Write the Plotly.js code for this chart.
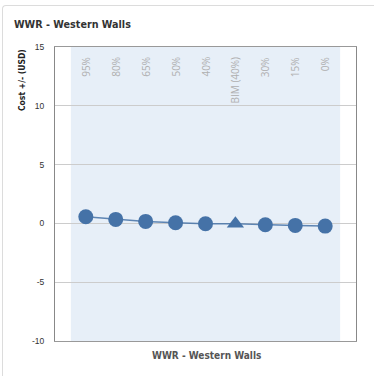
<!DOCTYPE html>
<html>
<head>
<meta charset="utf-8">
<script src="https://cdn.plot.ly/plotly-3.0.1.min.js"></script>
<style>
  html, body { margin: 0; padding: 0; background: #fff; }
  #card { position: absolute; left: 2px; top: 5px; width: 400px; height: 400px;
          border-left: 1px solid #dcdcdc; border-top: 1px solid #dcdcdc; border-radius: 4px 0 0 0; }
  #chart { position: absolute; left: 0; top: 0; width: 374px; height: 376px; }
</style>
</head>
<body>
<div id="card"></div>
<div id="chart"></div>
<script>
const categories = ["95%", "80%", "65%", "50%", "40%", "BIM (40%)", "30%", "15%", "0%"];
const costValues = [0.56, 0.34, 0.17, 0.05, -0.03, -0.03, -0.12, -0.17, -0.23];
const markerSymbols = ["circle", "circle", "circle", "circle", "circle", "triangle-up", "circle", "circle", "circle"];
const yTicks = [-10, -5, 0, 5, 10, 15];

const narrow = "'Liberation Sans Narrow', 'Arial Narrow', 'DejaVu Sans Condensed', sans-serif";
const xIdx = categories.map((c, i) => i);

const trace = {
  x: xIdx,
  y: costValues,
  text: categories,
  type: "scatter",
  mode: "lines+markers",
  line: { color: "rgba(69,114,167,0.85)", width: 1.5 },
  marker: { color: "#4572a7", size: 15, symbol: markerSymbols, line: { width: 0 } },
  hoverinfo: "text+y"
};

const annotations = categories.map((c, i) => ({
  x: i, xref: "x", y: 1, yref: "paper",
  text: c, showarrow: false, textangle: -90,
  xanchor: "center", yanchor: "top", yshift: -8,
  font: { family: "'Open Sans', 'DejaVu Sans', sans-serif", size: 10, color: "#b0b0b0" }
}));

annotations.push({
  x: (22 - 55) / 301, xref: "paper", y: 1, yref: "paper",
  text: "<b>Cost +/- (USD)</b>", showarrow: false, textangle: -90,
  xanchor: "center", yanchor: "top",
  font: { family: narrow, size: 8.5, color: "#222" }
});
annotations.push({
  x: (206 - 55) / 301, xref: "paper", y: 0, yref: "paper",
  text: "<b>WWR - Western Walls</b>", showarrow: false,
  xanchor: "center", yanchor: "middle", yshift: -14,
  font: { family: narrow, size: 10, color: "#555" }
});

const layout = {
  width: 374, height: 376,
  margin: { l: 55, r: 18, t: 47, b: 35 },
  paper_bgcolor: "rgba(0,0,0,0)",
  plot_bgcolor: "#ffffff",
  showlegend: false,
  title: {
    text: "<b>WWR - Western Walls</b>",
    x: 14 / 374, xref: "container", xanchor: "left",
    y: 1 - 24 / 376, yref: "container", yanchor: "middle",
    font: { family: narrow, size: 10.7, color: "#333" }
  },
  xaxis: {
    range: [-1.03, categories.length - 1 + 1.03],
    showticklabels: false, ticks: "", showgrid: false, zeroline: false,
    showline: true, linecolor: "#999", linewidth: 1, mirror: true
  },
  yaxis: {
    range: [-10, 15], tickvals: yTicks, ticktext: yTicks.map(String),
    showgrid: true, gridcolor: "#cccccc", gridwidth: 1, zeroline: false,
    showline: true, linecolor: "#888", linewidth: 1, mirror: true,
    ticks: "", ticklabelstandoff: 8,
    tickfont: { family: "'Liberation Sans', Arial, sans-serif", size: 8.5, color: "#333" }
  },
  shapes: [{
    type: "rect", xref: "x", yref: "paper", layer: "below",
    x0: -0.5, x1: categories.length - 0.5, y0: 0, y1: 1,
    fillcolor: "#e7eff8", line: { width: 0 }
  }],
  annotations: annotations
};

Plotly.newPlot("chart", [trace], layout, { displayModeBar: false, staticPlot: true });
</script>
</body>
</html>
